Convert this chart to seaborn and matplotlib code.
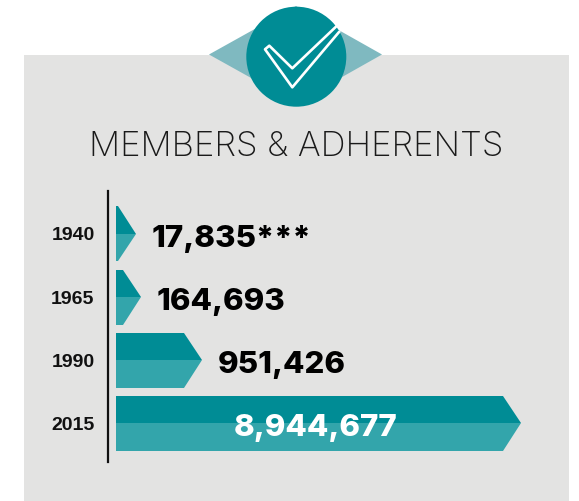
# -*- coding: utf-8 -*-
"""
Members & adherents infographic
"""
import pandas as pd
import seaborn as sns
import matplotlib.pyplot as plt
from matplotlib.colors import to_rgb
from matplotlib.patches import Circle, Polygon, Rectangle

sns.set_theme(style="white")

years = ["1940", "1965", "1990", "2015"]
value_labels = ["17,835***", "164,693", "951,426", "8,944,677"]
# bar body lengths, the drawn bars are not to scale with the labels
bar_lengths = [2, 7, 68, 387]
tones = ["top", "bottom"]

DARK = "#008C95"
LIGHT = "#33A5AB"
GREY = "#E3E3E2"
DIAMOND = "#7FB9C0"
W, H = 579, 501
TIP = 18

fig = plt.figure(figsize=(W / 100, H / 100), dpi=100, facecolor="white")

#%% background, badge and title on a pixel canvas
bg = fig.add_axes([0, 0, 1, 1], zorder=0)
bg.set_xlim(0, W)
bg.set_ylim(H, 0)
bg.axis("off")
bg.add_patch(Rectangle((24, 55), 545, 446, color=GREY, lw=0))
bg.add_patch(Polygon([(209, 54.5), (296, 6), (382, 54.5), (296, 103)], color=DIAMOND, lw=0))
bg.add_patch(Circle((296.3, 56.7), 50, color=DARK, lw=0))
bg.plot([336.7, 292.3, 269.3, 265, 292.3, 339.3], [26, 68.3, 45.7, 49.3, 87.3, 31.7],
        color="white", lw=1.9, solid_joinstyle="round")
bg.text(296.5, 155.5, "MEMBERS & ADHERENTS", ha="center", va="baseline", color="#1a1a1a",
        fontsize=25, family=["Inter", "DejaVu Sans"], fontweight=200)

#%% bars
df = pd.DataFrame({
    "year": years * 2,
    "length": bar_lengths * 2,
    "tone": [tones[0]] * 4 + [tones[1]] * 4,
})

ax = fig.add_axes([107.7 / W, 1 - 462 / H, (W - 107.7) / W, 271 / H], zorder=1)
ax.patch.set_alpha(0)
sns.barplot(data=df, y="year", x="length", hue="tone", order=years, hue_order=tones,
            palette=[DARK, LIGHT], width=0.87, saturation=1, gap=0, linewidth=0,
            legend=False, ax=ax)
ax.set_xlim(-8.3, W - 116)
ax.set_ylim(3.61, -0.68)

# chevron tips from the bars themselves
for bar in list(ax.patches):
    x1 = bar.get_x() + bar.get_width()
    y0, h = bar.get_y(), bar.get_height()
    is_top = bar.get_facecolor()[:3] == to_rgb(DARK)
    mid = y0 + h if is_top else y0
    outer = y0 if is_top else y0 + h
    ax.add_patch(Polygon([(x1, outer), (x1, mid), (x1 + TIP, mid)],
                         facecolor=bar.get_facecolor(), lw=0))

for i, label in enumerate(value_labels):
    tip = bar_lengths[i] + TIP
    if i == len(value_labels) - 1:
        ax.annotate(label, (tip / 2, i), xytext=(-3, -13), textcoords="offset pixels",
                    ha="center", va="baseline", color="white", fontsize=22.5,
                    fontweight=800, family=["Inter", "DejaVu Sans"])
    else:
        ax.annotate(label, (tip, i), xytext=(16, -13), textcoords="offset pixels",
                    ha="left", va="baseline", color="black", fontsize=22.5,
                    fontweight=800, family=["Inter", "DejaVu Sans"])

sns.despine(ax=ax, top=True, right=True, bottom=True)
ax.spines["left"].set_color("#111111")
ax.spines["left"].set_linewidth(1.6)
ax.set_xlabel("")
ax.set_ylabel("")
ax.set_xticks([])
ax.tick_params(axis="y", length=0, pad=9.5)
for t in ax.get_yticklabels():
    t.set_family(["Liberation Sans", "DejaVu Sans"])
    t.set_fontweight("bold")
    t.set_fontsize(14)
    t.set_color("#111111")

plt.savefig("out.png", dpi=100)
